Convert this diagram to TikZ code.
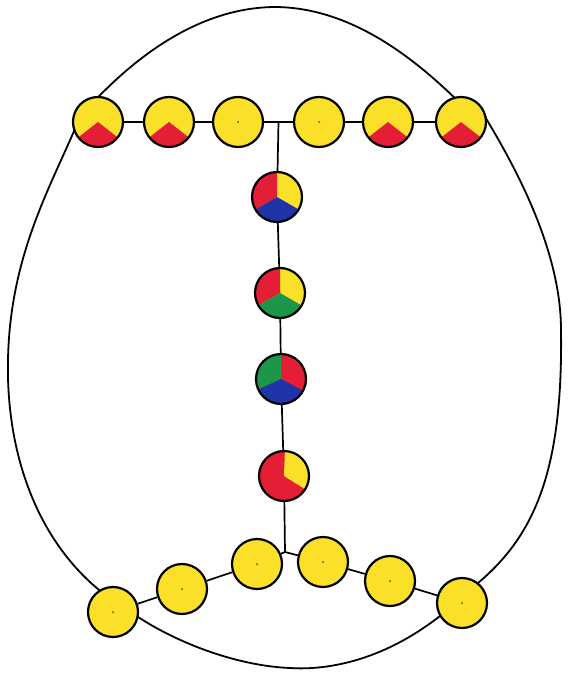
\documentclass[tikz,border=0pt]{standalone}
\usetikzlibrary{calc}
\definecolor{cyel}{RGB}{250,224,40}
\definecolor{cred}{RGB}{228,30,52}
\definecolor{cblue}{RGB}{32,52,170}
\definecolor{cgreen}{RGB}{28,150,72}
\newcommand\sect[3]{\fill[#1] (path picture bounding box.center) -- ++(#2:30pt) arc[start angle=#2,end angle=#3,radius=30pt] -- cycle;}
\tikzset{
  ball/.style={circle, draw=black, line width=2.2pt, minimum size=50pt, inner sep=0pt, fill=cyel},
  dotball/.style={ball, path picture={\fill[black!70] (path picture bounding box.center) circle (1pt);}},
  redcap/.style={ball, path picture={\sect{cred}{-142}{-38}}},
  link/.style={line width=1.7pt, black},
  outline/.style={line width=1.8pt, black, line cap=round, line join=round}
}
\begin{document}
\begin{tikzpicture}[x=1pt,y=1pt]
\useasboundingbox (0,0) rectangle (573,-685);
% outer outline, in four arcs that meet inside the corner circles
\draw[outline] (86,-110) .. controls (136,-55) and (200,-8) .. (274,-7)
  .. controls (354,-7) and (420,-63) .. (465,-108);
\draw[outline] (484,-115) .. controls (509,-157) and (561,-245) .. (561,-330)
  .. controls (563,-470) and (535,-535) .. (478,-583);
\draw[outline] (445,-612) .. controls (380,-665) and (320,-670) .. (290,-668)
  .. controls (240,-666) and (180,-645) .. (135,-615);
\draw[outline] (104,-594) .. controls (35,-540) and (6,-450) .. (8,-360)
  .. controls (10,-250) and (55,-180) .. (82,-112);
% top row
\node[redcap] (t1) at (98,-122) {};
\node[redcap] (t2) at (169,-122) {};
\node[dotball] (t3) at (238,-122) {};
\node[dotball] (t4) at (319,-122) {};
\node[redcap] (t5) at (388,-122) {};
\node[redcap] (t6) at (461,-122) {};
% vertical column
\node[ball, path picture={\sect{cred}{90}{210}\sect{cblue}{210}{330}}] (v1) at (277,-197) {};
\node[ball, path picture={\sect{cred}{90}{210}\sect{cgreen}{210}{330}}] (v2) at (280,-293) {};
\node[ball, fill=cred, path picture={\sect{cgreen}{90}{205}\sect{cblue}{205}{332}}] (v3) at (281,-379) {};
\node[ball, fill=cred, path picture={\sect{cyel}{-32}{88}}] (v4) at (284,-476) {};
% bottom row
\node[dotball] (b1) at (113,-612) {};
\node[dotball] (b2) at (182,-589) {};
\node[dotball] (b3) at (257,-564) {};
\node[dotball] (b4) at (323,-562) {};
\node[dotball] (b5) at (390,-581) {};
\node[dotball] (b6) at (462,-603) {};
% junctions
\coordinate (jt) at (278.5,-122);
\coordinate (jb) at (285,-552);
% connectors
\draw[link] (t1) -- (t2);
\draw[link] (t2) -- (t3);
\draw[link] (t3) -- (t4);
\draw[link] (t4) -- (t5);
\draw[link] (t5) -- (t6);
\draw[link] (jt) -- (v1);
\draw[link] (v1) -- (v2);
\draw[link] (v2) -- (v3);
\draw[link] (v3) -- (v4);
\draw[link] (v4) -- (jb);
\draw[link] (jb) -- (b3);
\draw[link] (jb) -- (b4);
\draw[link] (b1) -- (b2);
\draw[link] (b2) -- (b3);
\draw[link] (b4) -- (b5);
\draw[link] (b5) -- (b6);
\end{tikzpicture}
\end{document}
